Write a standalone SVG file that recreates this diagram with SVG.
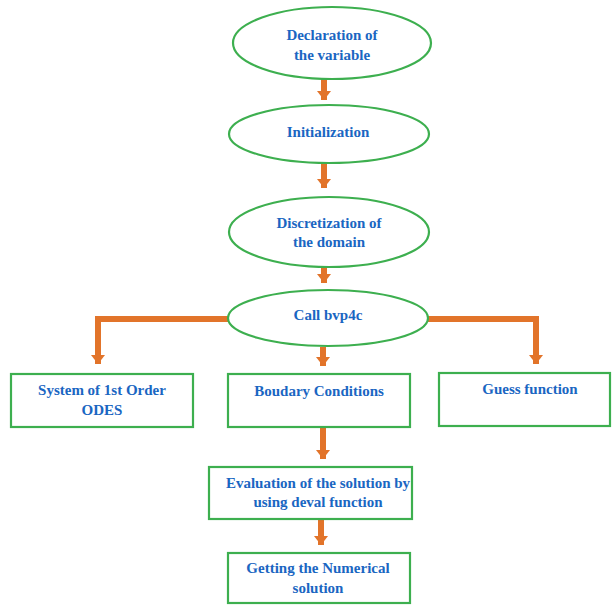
<svg xmlns="http://www.w3.org/2000/svg" width="612" height="606" viewBox="0 0 612 606">
<style>
.n{fill:#fff;stroke:#3DAF4F;stroke-width:2.2}
.t{font-family:'Liberation Serif','Times New Roman',serif;font-weight:bold;font-size:15px;fill:#1A66C2;text-anchor:middle}
.c{fill:none;stroke:#E2742A;stroke-width:6;stroke-linejoin:miter}
</style>
<defs>
<marker id="ah" markerUnits="userSpaceOnUse" markerWidth="14" markerHeight="10" refX="7" refY="9" orient="0" viewBox="0 0 14 10">
<path d="M0,0 L14,0 L7,9 Z" fill="#E2742A"/>
</marker>
</defs>
<rect width="612" height="606" fill="#fff"/>
<g id="connectors">
<path class="c" d="M324,78 V100" marker-end="url(#ah)"/>
<path class="c" d="M324,163 V188" marker-end="url(#ah)"/>
<path class="c" d="M324,267 V283" marker-end="url(#ah)"/>
<path class="c" d="M229,319 H98 V364" marker-end="url(#ah)"/>
<path class="c" d="M427,319 H536 V364" marker-end="url(#ah)"/>
<path class="c" d="M323,347 V366" marker-end="url(#ah)"/>
<path class="c" d="M323,427 V459" marker-end="url(#ah)"/>
<path class="c" d="M321,519 V545" marker-end="url(#ah)"/>
</g>
<g font-family="Liberation Serif, serif">
<g id="n1"><ellipse class="n" cx="332" cy="43" rx="99" ry="36"/><text class="t" x="332" y="40">Declaration of</text><text class="t" x="332" y="60">the variable</text></g>
<g id="n2"><ellipse class="n" cx="329" cy="134" rx="100" ry="29"/><text class="t" x="328" y="137">Initialization</text></g>
<g id="n3"><ellipse class="n" cx="329" cy="232" rx="100" ry="35"/><text class="t" x="329" y="228">Discretization of</text><text class="t" x="329" y="247">the domain</text></g>
<g id="n4"><ellipse class="n" cx="328" cy="318" rx="100" ry="28"/><text class="t" x="328" y="320">Call bvp4c</text></g>
<g id="n5"><rect class="n" x="11" y="374" width="182" height="53"/><text class="t" x="102" y="395">System of 1st Order</text><text class="t" x="102" y="415">ODES</text></g>
<g id="n6"><rect class="n" x="228" y="374" width="182" height="53"/><text class="t" x="319" y="396">Boudary Conditions</text></g>
<g id="n7"><rect class="n" x="439" y="373" width="171" height="53"/><text class="t" x="530" y="394">Guess function</text></g>
<g id="n8"><rect class="n" x="209" y="467" width="203" height="52"/><text class="t" x="318" y="488">Evaluation of the solution by</text><text class="t" x="318" y="507">using deval function</text></g>
<g id="n9"><rect class="n" x="228" y="553" width="182" height="50"/><text class="t" x="318" y="573">Getting the Numerical</text><text class="t" x="318" y="593">solution</text></g>
</g>
</svg>
